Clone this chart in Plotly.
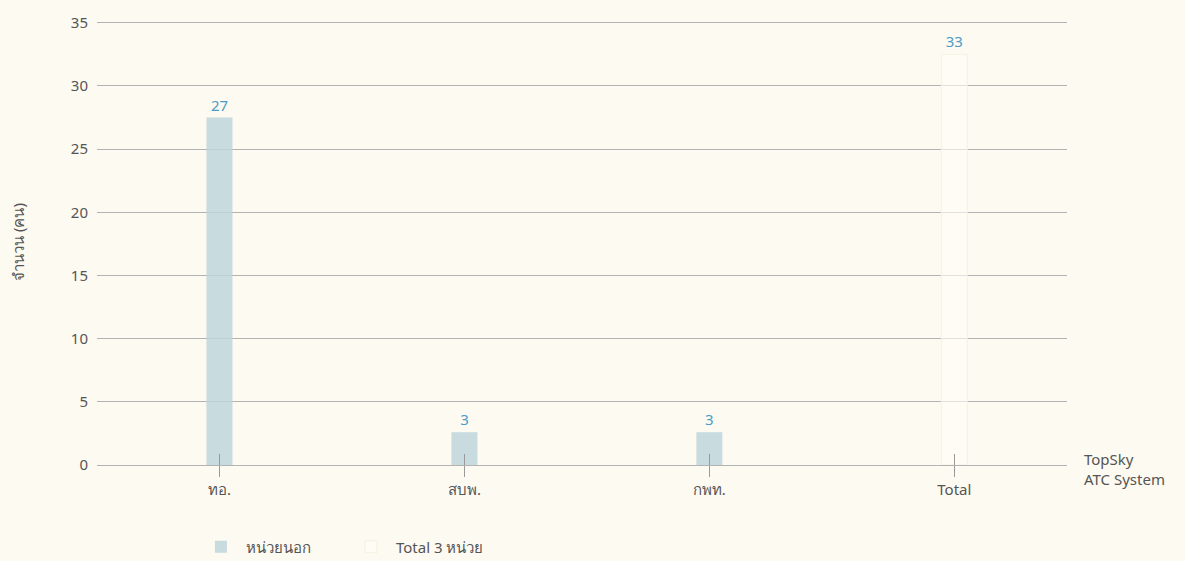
import plotly.graph_objects as go

# data
categories = ["ทอ.", "สบพ.", "กพท.", "Total"]
bar_values = [27.5, 2.6, 2.6, 32.5]
bar_labels = ["27", "3", "3", "33"]
y_ticks = [0, 5, 10, 15, 20, 25, 30, 35]

bg = "#fdfaf1"
font_family = "Noto Sans, Lato, sans-serif"

fig = go.Figure()

# first three bars: "หน่วยนอก"
fig.add_trace(go.Bar(
    x=categories[:3], y=bar_values[:3],
    text=bar_labels[:3], textposition="outside",
    textfont=dict(color="#4b9cc6", size=15),
    marker=dict(color="rgba(190,213,220,0.85)", line=dict(width=0)),
    width=0.106, name="หน่วยนอก", cliponaxis=False,
))
# total bar, almost the same colour as the background
fig.add_trace(go.Bar(
    x=categories[3:], y=bar_values[3:],
    text=bar_labels[3:], textposition="outside",
    textfont=dict(color="#4b9cc6", size=15),
    marker=dict(color="rgba(255,254,248,0.6)", line=dict(width=1, color="#f6f1de")),
    width=0.106, name="Total 3 หน่วย", cliponaxis=False,
))
# invisible helper so the overlay axis draws the upper half of the ticks
fig.add_trace(go.Scatter(
    x=categories, y=[0] * len(categories), xaxis="x2",
    mode="markers", marker=dict(opacity=0), showlegend=False, hoverinfo="skip",
))

fig.update_layout(
    width=1185, height=561,
    paper_bgcolor=bg, plot_bgcolor=bg,
    margin=dict(l=97, r=118, t=17, b=96),
    font=dict(family=font_family, size=14, color="#555555"),
    barmode="overlay",
    showlegend=True,
    legend=dict(
        orientation="h", xref="paper", x=0.102, xanchor="left",
        yref="container", y=0.025, yanchor="middle",
        font=dict(size=15, color="#555555"), itemwidth=40, entrywidth=95,
        bgcolor="rgba(0,0,0,0)",
    ),
    xaxis=dict(
        type="category", categoryarray=categories, range=[-0.5, 3.46],
        showgrid=False, showline=True, linecolor="#b3b3b3", linewidth=1,
        ticks="outside", ticklen=11, tickcolor="#999999", tickwidth=1,
        tickfont=dict(size=15, color="#555555"),
        zeroline=False,
    ),
    xaxis2=dict(
        type="category", categoryarray=categories, range=[-0.5, 3.46],
        overlaying="x", side="bottom", anchor="y",
        showgrid=False, showline=False, showticklabels=False,
        ticks="inside", ticklen=11, tickcolor="#999999", tickwidth=1,
    ),
    yaxis=dict(
        range=[0, 35.3], tickvals=y_ticks, showgrid=True,
        gridcolor="#b3b3b3", gridwidth=1, zeroline=False,
        ticks="", ticklabelstandoff=8,
        tickfont=dict(size=15, color="#555555"),
        title=dict(text="จำนวน (คน)", font=dict(size=15, color="#555555"), standoff=42),
    ),
    annotations=[dict(
        text="TopSky<br>ATC System", xref="paper", yref="paper",
        x=1.015, y=0.04, xanchor="left", yanchor="top", align="left",
        showarrow=False, font=dict(size=15, color="#555555"),
    )],
)

fig.write_html("out.html", config={"displayModeBar": False},
               post_script="document.body.style.margin='0';")
